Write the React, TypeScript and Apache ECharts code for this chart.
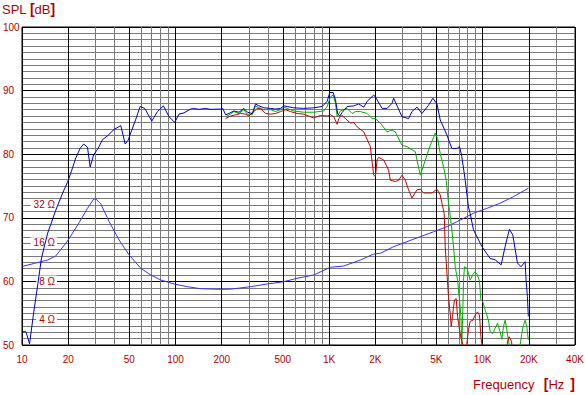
import React, { useEffect, useRef } from "react";
import * as echarts from "echarts";

const FREQ_MIN = 10;
const FREQ_MAX = 40000;
const SPL_MIN = 50;
const SPL_MAX = 100;

const MAJOR_FREQS = [10, 20, 50, 100, 200, 500, 1000, 2000, 5000, 10000, 20000, 40000];
const MAJOR_LABELS = ["10", "20", "50", "100", "200", "500", "1K", "2K", "5K", "10K", "20K", "40K"];
const MINOR_FREQS = [30, 40, 60, 70, 80, 90, 300, 400, 600, 700, 800, 900, 3000, 4000, 6000, 7000, 8000, 9000, 30000];

// impedance labels (ohms)
const IMP_TICKS = [4, 8, 16, 32];

// SPL, blue (full range)
const splBlue: [number, number][] = [
  [10, 52.1], [10.6, 52.1], [11.2, 50.2], [11.9, 55.0], [12.7, 59.7], [13.4, 63.7], [14.7, 67.6],
  [16.6, 71.2], [18.4, 73.9], [19.8, 75.6], [21.1, 77.5], [22.4, 79.4], [23.9, 80.9], [25.2, 81.6],
  [26.7, 81.1], [27.8, 78.0], [29.3, 79.9], [31.3, 80.9], [33.5, 82.3], [36.1, 82.9], [39.8, 83.9],
  [44.0, 84.5], [47.0, 81.6], [49.1, 82.2], [55.1, 85.5], [58.8, 87.5], [63.1, 87.2], [70.0, 85.2],
  [76.3, 86.7], [83.4, 87.6], [90.7, 85.9], [98.8, 85.0], [105.4, 86.3], [113.6, 86.5], [125.6, 87.1],
  [131, 87.2], [142, 87.05], [157, 87.2], [169, 87.05], [197, 87.1], [203, 87.2], [212, 86.2],
  [223, 86.4], [240, 86.8], [259, 86.6], [279, 87.2], [294, 86.6], [316, 86.4], [332, 87.9],
  [349, 87.6], [376, 87.3], [416, 87.2], [448, 87.1], [483, 87.2], [507, 87.6], [534, 87.5],
  [589, 87.3], [684, 87.2], [794, 87.3], [901, 87.5], [972, 88.3], [1011, 89.7], [1064, 89.7],
  [1102, 88.5], [1140, 86.3], [1175, 86.0], [1220, 86.6], [1312, 87.5], [1449, 87.6], [1561, 87.9],
  [1683, 87.4], [1770, 88.3], [1954, 89.3], [2004, 89.0], [2215, 87.2], [2388, 87.2], [2570, 88.0],
  [2636, 88.8], [2985, 85.9], [3296, 85.6], [3467, 86.7], [3740, 87.4], [4031, 86.4], [4446, 87.7],
  [4750, 88.8], [5045, 87.9], [5299, 85.4], [5861, 83.0], [6310, 80.9], [6808, 80.9], [7079, 81.2],
  [7328, 79.6], [7709, 75.9], [8091, 71.7], [8299, 70.7], [8730, 68.1], [9885, 65.5], [11200, 63.6],
  [12070, 63.4], [13210, 62.6], [14030, 65.5], [14960, 68.2], [15740, 67.3], [16860, 62.9],
  [17820, 62.3], [18930, 63.1], [19200, 60.2], [19590, 57.6], [19860, 54.5],
];

// SPL, red
const splRed: [number, number][] = [
  [212, 85.6], [228, 86.0], [246, 86.2], [265, 86.4], [286, 86.3], [301, 86.0], [324, 86.7],
  [341, 87.2], [358, 87.2], [386, 86.4], [416, 86.3], [448, 86.4], [483, 86.7], [520, 87.0],
  [561, 86.7], [620, 86.4], [684, 86.3], [794, 85.7], [879, 86.1], [972, 86.0], [1021, 86.2],
  [1073, 85.9], [1130, 84.7], [1156, 85.6], [1216, 86.1], [1279, 85.6], [1377, 84.9], [1449, 85.0],
  [1525, 84.3], [1683, 83.5], [1858, 81.2], [1954, 76.7], [2004, 76.5], [2056, 79.1], [2105, 79.5],
  [2270, 79.1], [2443, 77.5], [2506, 75.9], [2703, 75.7], [2838, 75.9], [2985, 76.7], [3140, 75.9],
  [3296, 74.4], [3467, 73.1], [3740, 74.4], [3929, 74.5], [4130, 73.9], [4677, 73.9], [5045, 74.5],
  [5299, 73.6], [5435, 72.3], [5623, 70.7], [5710, 65.5], [5861, 61.3], [5998, 57.6], [6152, 55.0],
  [6252, 52.9], [6368, 54.5], [6471, 56.0], [6561, 57.1], [6730, 57.3], [6871, 54.5], [7079, 52.4],
  [7228, 51.1], [7447, 50.0], [7621, 47], [7800, 47], [7907, 50.3], [8091, 52.4], [8299, 53.7],
  [8650, 53.9], [8954, 54.7], [9268, 55.2], [9550, 54.7], [9750, 51.3], [9885, 50.3], [10100, 47],
  [14300, 47], [14520, 50.5], [14890, 51.3], [15280, 50.8], [15490, 50.3], [15700, 47],
];

// SPL, green
const splGreen: [number, number][] = [
  [212, 85.9], [228, 86.3], [240, 86.7], [259, 86.4], [279, 87.0], [293, 86.3], [316, 86.2],
  [332, 87.6], [349, 87.3], [376, 87.0], [416, 87.0], [448, 86.7], [483, 87.0], [507, 87.4],
  [534, 87.2], [589, 86.8], [684, 86.6], [794, 86.6], [924, 86.8], [972, 87.5], [1021, 89.0],
  [1064, 89.3], [1102, 88.0], [1130, 85.9], [1156, 86.3], [1186, 86.8], [1247, 87.0], [1312, 87.2],
  [1413, 86.4], [1485, 86.7], [1600, 86.7], [1770, 86.4], [1906, 85.6], [2004, 85.6], [2159, 84.9],
  [2388, 83.5], [2570, 83.8], [2703, 83.5], [2985, 81.4], [3219, 81.2], [3467, 80.7], [3646, 80.4],
  [3775, 78.6], [3929, 76.7], [4236, 79.1], [4560, 81.4], [4920, 83.3], [5093, 82.5], [5299, 80.1],
  [5570, 78.0], [5794, 75.9], [5998, 72.3], [6091, 71.2], [6310, 68.1], [6471, 65.4], [6637, 62.3],
  [6871, 60.2], [7079, 57.1], [7228, 54.5], [7328, 50.0], [7447, 56.0], [7516, 60.2], [7621, 62.3],
  [7907, 62.1], [8091, 61.3], [8299, 60.2], [8511, 60.7], [8730, 61.3], [8954, 61.5], [9268, 61.0],
  [9550, 60.0], [9750, 57.1], [10040, 56.8], [10400, 55.5], [10920, 53.9], [11200, 52.1],
  [11670, 51.8], [12070, 52.6], [12500, 53.4], [13000, 52.1], [13340, 50.9], [13680, 52.9],
  [14030, 53.9], [14390, 52.4], [14720, 50.8], [14960, 50.0], [15300, 47], [17200, 47], [17540, 50.0],
  [18030, 51.8], [18450, 53.1], [18930, 53.9], [19410, 52.9], [19860, 50.8],
];

// Impedance (ohms)
const impedance: [number, number][] = [
  [10, 10.4], [12.0, 11.0], [13.3, 11.35], [14.7, 11.7], [16.2, 12.4], [16.6, 12.6], [19.8, 16.5],
  [23.5, 22.9], [26.7, 29.8], [29.3, 35.3], [30.3, 35.3], [32.6, 32.3], [37.0, 23.4], [42.9, 16.8],
  [49.9, 12.8], [59.4, 10.07], [69, 8.92], [80.2, 8.15], [97.8, 7.58], [119.4, 7.22], [145.8, 6.96],
  [196.6, 6.88], [228.5, 6.9], [308, 7.22], [396, 7.58], [507, 7.9], [620, 8.41], [794, 8.92],
  [1021, 10.26], [1247, 10.5], [1600, 11.7], [1954, 13.05], [2159, 13.2], [2636, 14.9], [3219, 16.3],
  [3929, 17.85], [4797, 19.5], [5861, 21.4], [7149, 24.1], [8730, 27.3], [10660, 29.8], [13000, 32.7],
  [15880, 36.8], [19860, 42.9],
];

// impedance scale: 20*log10(Z) + 42 dB
const IMP_OFFSET_DB = 42;
const IMP_MIN = Math.pow(10, (SPL_MIN - IMP_OFFSET_DB) / 20);
const IMP_MAX = Math.pow(10, (SPL_MAX - IMP_OFFSET_DB) / 20);
const IMP_LABEL_FREQ = 16.9;

const RED_TEXT = "#b00000";
const FONT = "Liberation Sans, Arial, sans-serif";

export default function App() {
  const ref = useRef<HTMLDivElement>(null);
  useEffect(() => {
    const chart = echarts.init(ref.current!, null, { renderer: "svg" });
    const gridLines = [
      ...MINOR_FREQS.map((f) => ({
        xAxis: f,
        lineStyle: { color: "#7a7a7a", width: 1, type: "solid" },
        label: { show: false },
      })),
      ...MAJOR_FREQS.map((f, i) => ({
        xAxis: f,
        lineStyle: { color: "#000000", width: 1, type: "solid" },
        label: {
          show: true,
          position: "start",
          formatter: MAJOR_LABELS[i],
          color: RED_TEXT,
          fontSize: 10,
          fontFamily: FONT,
          distance: 9,
        },
      })),
    ];
    const option: any = {
      animation: false,
      backgroundColor: "#ffffff",
      textStyle: { fontFamily: FONT },
      grid: {
        left: 21,
        right: 10,
        top: 27,
        bottom: 50,
        show: true,
        borderColor: "#000",
        borderWidth: 1,
        backgroundColor: "transparent",
      },
      xAxis: {
        type: "log",
        logBase: 10,
        min: FREQ_MIN,
        max: FREQ_MAX,
        axisLine: { show: false },
        axisTick: { show: false },
        axisLabel: { show: false },
        splitLine: { show: false },
      },
      yAxis: [
        {
          type: "value",
          min: SPL_MIN,
          max: SPL_MAX,
          interval: 10,
          axisLine: { show: false },
          axisTick: { show: false },
          axisLabel: {
            color: RED_TEXT,
            fontSize: 10,
            fontFamily: FONT,
            align: "left",
            margin: 19,
          },
          splitLine: { show: true, lineStyle: { color: "#000", width: 1 } },
          minorTick: { show: false, splitNumber: 10 },
          minorSplitLine: { show: true, lineStyle: { color: "#7a7a7a", width: 1 } },
        },
        {
          type: "log",
          logBase: 10,
          min: IMP_MIN,
          max: IMP_MAX,
          show: false,
          splitLine: { show: false },
        },
      ],
      graphic: [
        {
          type: "text",
          left: 2,
          top: 2,
          style: {
            text: "{a|SPL} {b|[}{a|dB}{b|]}",
            rich: {
              a: { fontSize: 13, fontFamily: FONT, fill: RED_TEXT, color: RED_TEXT },
              b: { fontSize: 14, fontFamily: FONT, fontWeight: "bold", fill: RED_TEXT, color: RED_TEXT },
            },
          },
        },
        {
          type: "text",
          right: 10,
          top: 377,
          style: {
            text: "{a|Frequency} {b|[}{a|Hz}{b|]}",
            rich: {
              a: { fontSize: 13, fontFamily: FONT, fill: RED_TEXT, color: RED_TEXT },
              b: { fontSize: 14, fontFamily: FONT, fontWeight: "bold", fill: RED_TEXT, color: RED_TEXT, padding: [0, 0, 0, 6] },
            },
          },
        },
      ],
      series: [
        {
          type: "line",
          name: "grid",
          data: [],
          z: 1,
          silent: true,
          markLine: {
            silent: true,
            symbol: ["none", "none"],
            animation: false,
            z: 1,
            data: gridLines,
          },
        },
        {
          type: "line",
          name: "Impedance",
          yAxisIndex: 1,
          data: impedance,
          showSymbol: false,
          symbol: "none",
          z: 3,
          lineStyle: { color: "#3434ff", width: 1 },
          markPoint: {
            symbol: "circle",
            symbolSize: 0,
            silent: true,
            z: 2,
            data: IMP_TICKS.map((z) => ({ coord: [IMP_LABEL_FREQ, z], value: z })),
            label: {
              show: true,
              position: "left",
              distance: 0,
              formatter: (p: any) => `${p.value} Ω`,
              color: RED_TEXT,
              fontSize: 10,
              fontFamily: FONT,
              backgroundColor: "#ffffff",
              padding: [1, 2, 0, 3],
            },
          },
        },
        {
          type: "line",
          name: "Green",
          data: splGreen,
          symbol: "none",
          z: 4,
          clip: true,
          lineStyle: { color: "#00b000", width: 1 },
        },
        {
          type: "line",
          name: "Red",
          data: splRed,
          symbol: "none",
          z: 4,
          clip: true,
          lineStyle: { color: "#c80000", width: 1 },
        },
        {
          type: "line",
          name: "Blue",
          data: splBlue,
          symbol: "none",
          z: 5,
          clip: true,
          lineStyle: { color: "#0000c0", width: 1 },
        },
      ],
    };
    chart.setOption(option);
    return () => chart.dispose();
  }, []);
  return (
    <div
      ref={ref}
      style={{ position: "absolute", left: 0, top: 0, width: 585, height: 395, background: "#fff" }}
    />
  );
}
